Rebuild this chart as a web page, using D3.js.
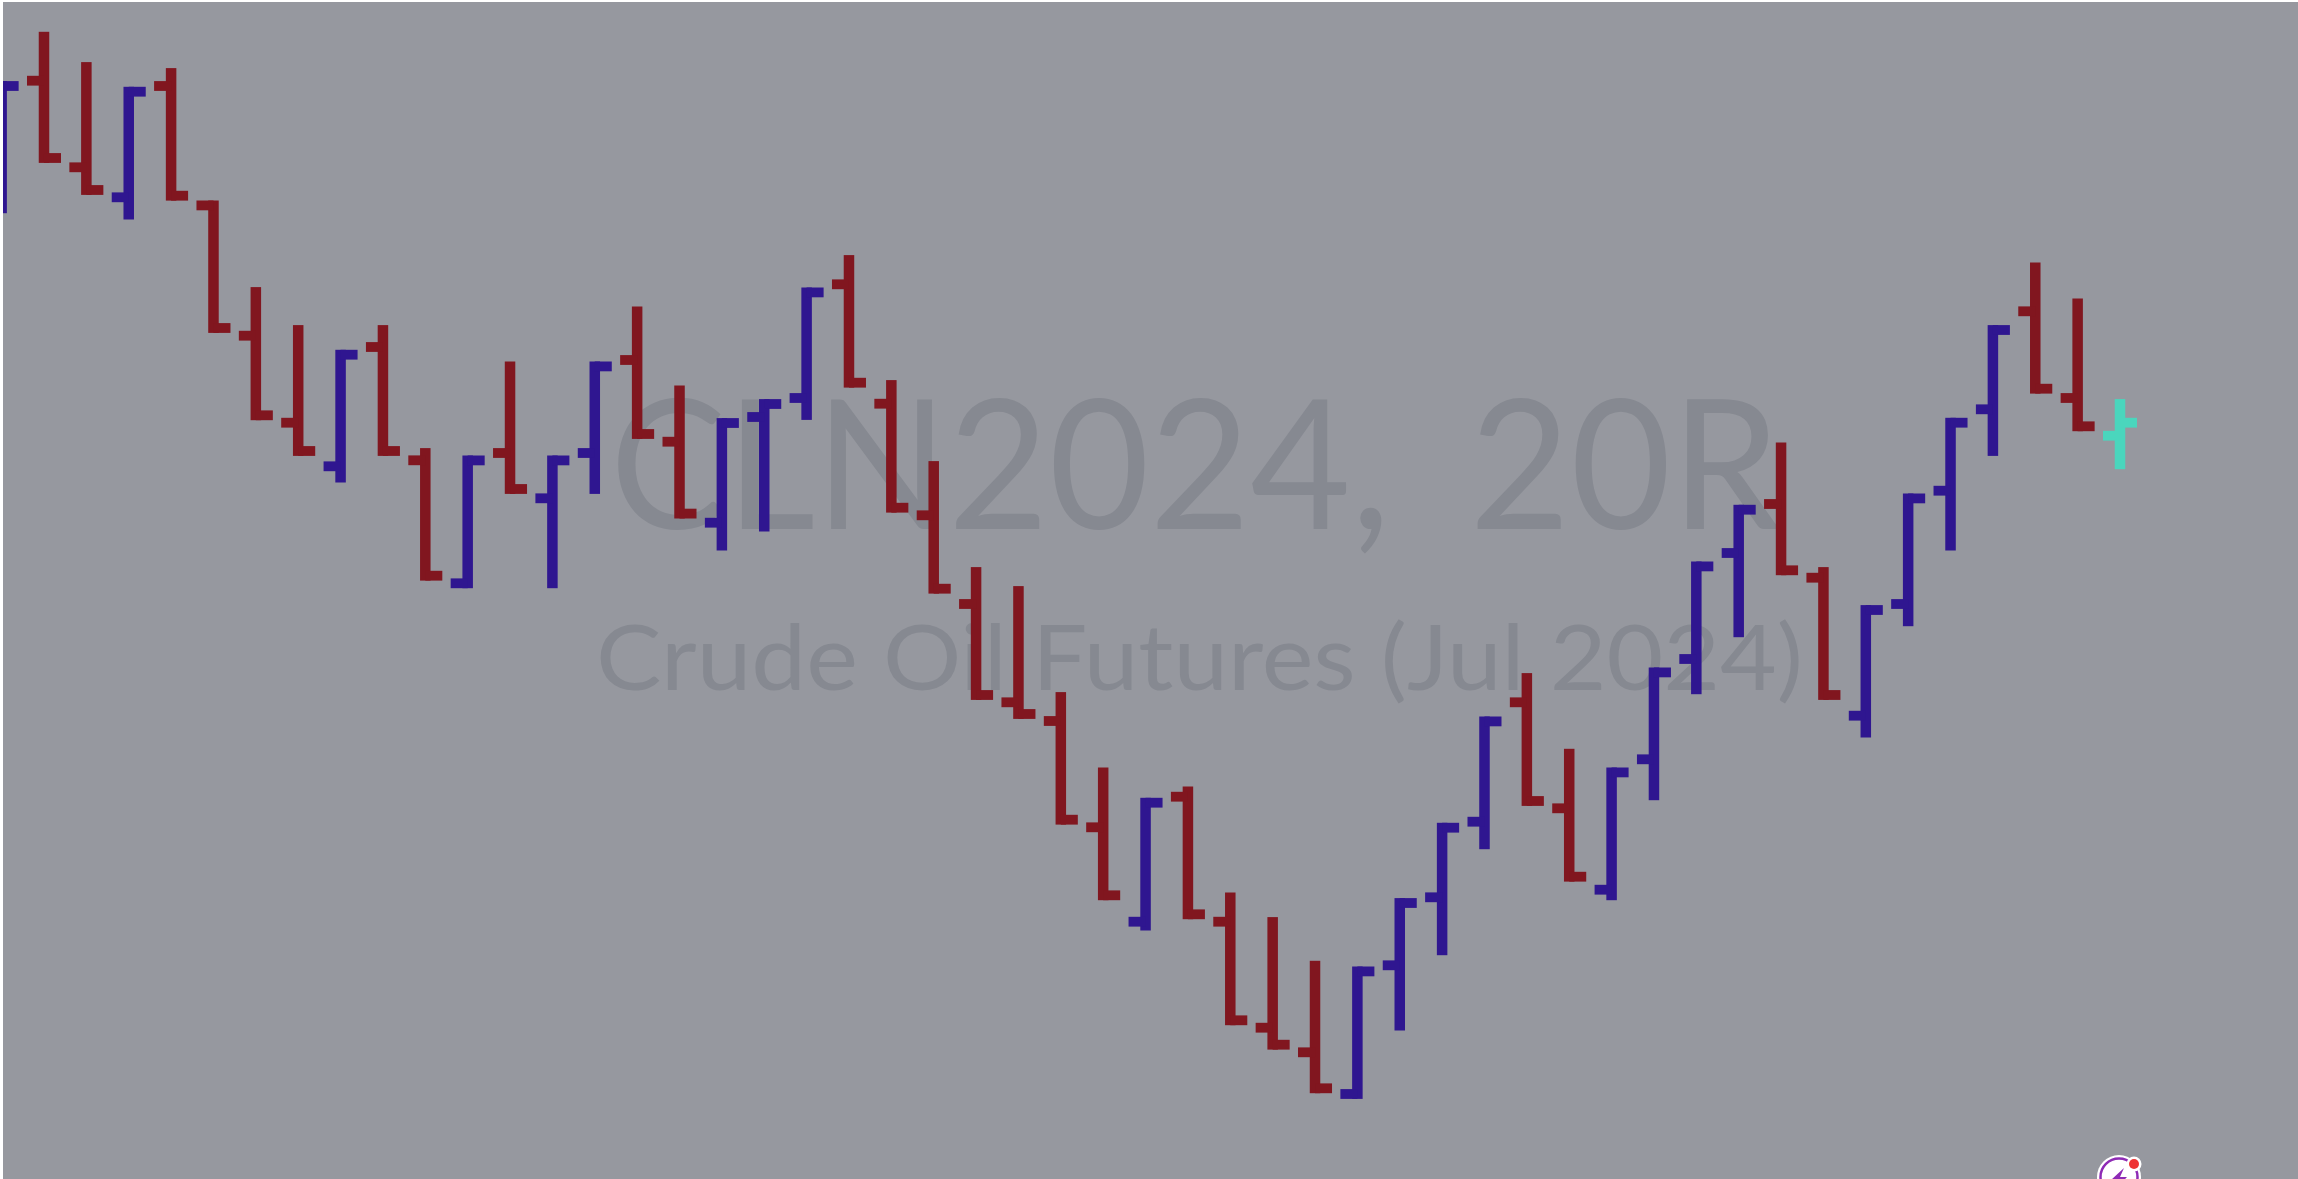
<!DOCTYPE html>
<html><head><meta charset="utf-8">
<script src="https://cdn.jsdelivr.net/npm/d3@7"></script>
<style>html,body{margin:0;padding:0;background:#fff;overflow:hidden}svg{display:block}</style>
</head><body><div id="chart"></div>
<script>
const title = "CLN2024, 20R";
const subtitle = "Crude Oil Futures (Jul 2024)";
const opens = [79.81,80.983,80.117,79.817,80.93,79.736,78.433,77.563,77.127,78.32,77.187,75.957,77.26,76.807,77.26,78.19,77.373,76.563,77.62,77.81,78.947,77.753,76.637,75.75,74.767,74.58,73.517,72.573,73.823,72.573,71.513,71.267,70.85,72.137,72.817,73.573,74.767,73.707,72.893,74.197,75.2,76.26,76.75,76.013,74.633,75.75,76.883,77.697,78.677,77.81,77.433];
const highs = [80.93,81.423,81.12,80.873,81.06,79.736,78.87,78.49,78.243,78.49,77.26,77.186,78.126,77.186,78.126,78.676,77.886,77.56,77.75,78.866,79.19,77.94,77.13,76.07,75.88,74.82,74.066,73.763,73.876,72.816,72.57,72.133,72.076,72.76,73.513,74.576,75.01,74.253,74.066,75.066,76.126,76.693,77.316,76.07,75.69,76.806,77.563,78.49,79.116,78.756,77.75];
const lows = [79.707,80.21,79.89,79.644,79.833,78.51,77.637,77.28,77.014,77.28,76.033,75.957,76.9,75.957,76.9,77.45,76.654,76.334,76.524,77.64,77.963,76.713,75.903,74.84,74.65,73.593,72.837,72.534,72.647,71.587,71.343,70.907,70.85,71.534,72.287,73.347,73.78,73.023,72.837,73.837,74.897,75.467,76.087,74.84,74.464,75.577,76.334,77.28,77.903,77.527,77.147];
const closes = [80.93,80.21,79.89,80.873,79.833,78.51,77.637,77.28,78.243,77.28,76.033,77.186,76.9,77.186,78.126,77.45,76.654,77.56,77.75,78.866,77.963,76.713,75.903,74.84,74.65,73.593,72.837,73.763,72.647,71.587,71.343,70.907,72.076,72.76,73.513,74.576,73.78,73.023,74.066,75.066,76.126,76.693,76.087,74.84,75.69,76.806,77.563,78.49,77.903,77.527,77.563];

const W = 2298, H = 1179;
const BG = "#96989f", UP = "#2f1690", DOWN = "#81161f", LIVE = "#4ad6bd", MARK = "#868991";
const x = d3.scaleLinear().domain([0, opens.length - 1]).range([1.63, 2120]);
const y = d3.scaleLinear().domain([81.79, 70]).range([0, H]);
const stemW = 10.5, tickT = 9.8, tickL = 17;
const bars = opens.map((o, i) => ({i, o, h: highs[i], l: lows[i], c: closes[i]}));
const colorOf = d => d.i === bars.length - 1 ? LIVE : (d.c >= d.o ? UP : DOWN);

const svg = d3.select("#chart").append("svg").attr("width", W).attr("height", H);
svg.append("clipPath").attr("id", "plot").append("rect").attr("x", 3).attr("y", 2).attr("width", W - 3).attr("height", H - 2);
const plot = svg.append("g").attr("clip-path", "url(#plot)");
plot.append("rect").attr("width", W).attr("height", H).attr("fill", BG);

plot.append("text").text(title).attr("x", 610).attr("y", 529)
  .attr("word-spacing", 36)
  .attr("textLength", 1170).attr("lengthAdjust", "spacingAndGlyphs")
  .attr("font-family", "Lato").attr("font-size", 180).attr("fill", MARK);
plot.append("text").text(subtitle).attr("x", 596).attr("y", 690)
  .attr("textLength", 1207).attr("lengthAdjust", "spacingAndGlyphs")
  .attr("font-family", "Lato").attr("font-size", 92).attr("fill", MARK);

const g = plot.selectAll("g.bar").data(bars).join("g").attr("class", "bar").attr("fill", colorOf);
g.append("rect").attr("x", d => x(d.i) - stemW / 2).attr("width", stemW)
  .attr("y", d => y(d.h) - tickT / 2).attr("height", d => y(d.l) - y(d.h) + tickT);
g.append("rect").attr("x", d => x(d.i) - tickL).attr("width", tickL)
  .attr("y", d => y(d.o) - tickT / 2).attr("height", tickT);
g.append("rect").attr("x", d => x(d.i)).attr("width", tickL)
  .attr("y", d => y(d.c) - tickT / 2).attr("height", tickT);

const logo = plot.append("g").attr("transform", "translate(2119,1177)");
logo.append("circle").attr("r", 22).attr("fill", "#fff");
logo.append("circle").attr("r", 18.5).attr("fill", "none").attr("stroke", "#8e2bb5").attr("stroke-width", 2.5);
logo.append("path").attr("d", "M5,-9 L-8,3 L0,3 L-3,12 L8,0 L1,0 Z").attr("fill", "#8e2bb5");
logo.append("circle").attr("cx", 15).attr("cy", -13).attr("r", 7.5).attr("fill", "#fff");
logo.append("circle").attr("cx", 15).attr("cy", -13).attr("r", 5).attr("fill", "#ee3333");
</script></body></html>
